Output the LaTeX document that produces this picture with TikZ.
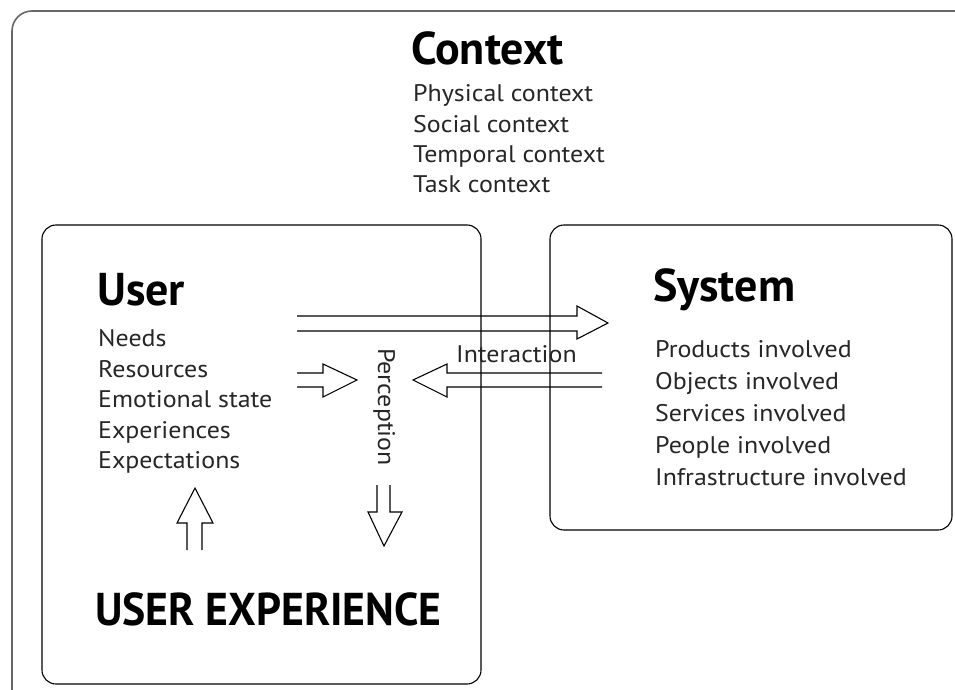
\documentclass[tikz,border=0pt]{standalone}
\usepackage{fontspec}
\setmainfont{PT Sans}[FakeStretch=1.08]
\newfontfamily\headfont{PT Sans}
\newfontfamily\uxfont{PT Sans}[FakeStretch=0.95]
\begin{document}
\begin{tikzpicture}[x=1pt, y=-1pt,
    box/.style={draw, line width=1.1pt, rounded corners=14pt},
    hollow/.style={draw, line width=1.1pt, line join=miter},
    heading/.style={anchor=base west, inner sep=0pt, font=\headfont\fontsize{46}{46}\selectfont\bfseries},
    item/.style={anchor=base west, inner sep=0pt, text=black!85, font=\fontsize{24}{24}\selectfont}]
    \useasboundingbox (0,0) rectangle (955,690);

    % Kontext (rechts und unten abgeschnitten)
    \draw[black!60, line width=1.6pt, rounded corners=20pt] (12,11) rectangle (1000,720);
    \node[heading] (context) at (411,65) {Context};
    \foreach \t [count=\i] in {Physical context, Social context, Temporal context, Task context}
        \node[item] (ctx\i) at (413,72+30*\i) {\t};

    % Boxen
    \draw[box] (42,225) rectangle (481,684);
    \draw[box] (550,225) rectangle (952,530);

    % User
    \node[heading] (user) at (97,305) {User};
    \foreach \t [count=\i] in {Needs, Resources, Emotional state, Experiences, Expectations}
        \node[item] (user\i) at (98,316+30.5*\i) {\t};
    \node[heading, font=\uxfont\fontsize{46}{46}\selectfont\bfseries] (ux) at (95,625) {USER EXPERIENCE};

    % System
    \node[heading] (system) at (653,301) {System};
    \foreach \t [count=\i] in {Products involved, Objects involved, Services involved, People involved, Infrastructure involved}
        \node[item] (sys\i) at (655,325+32*\i) {\t};

    % Interaktion
    \node[item] (interaction) at (456,362) {Interaction};
    \node[item, rotate=-90] (perception) at (378,348) {Perception};

    % Hohle Pfeile
    \draw[hollow] (297,316) -- (577,316) -- (577,306) -- (608,323) -- (577,339) -- (577,331) -- (297,331);
    \draw[hollow] (297,373) -- (323,373) -- (323,364) -- (357,380) -- (323,397) -- (323,387) -- (297,387);
    \draw[hollow] (602,373) -- (447,373) -- (447,364) -- (413,380) -- (447,397) -- (447,387) -- (602,387);
    \draw[hollow] (187,550) -- (187,523) -- (177,523) -- (195,488) -- (213,523) -- (202,523) -- (202,550);
    \draw[hollow] (377,485) -- (377,512) -- (368,512) -- (384,546) -- (402,512) -- (390,512) -- (390,485);
\end{tikzpicture}
\end{document}
